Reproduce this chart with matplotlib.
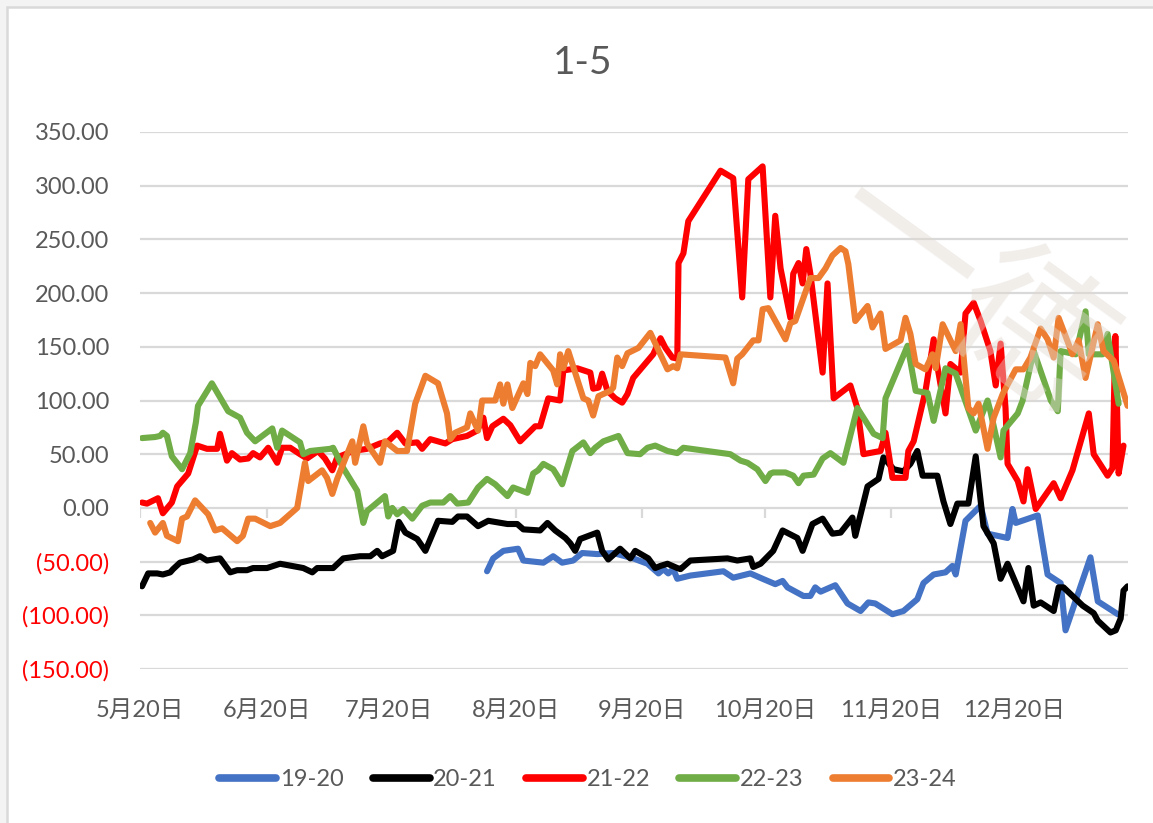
import matplotlib
matplotlib.use('Agg')
import matplotlib.pyplot as plt
from matplotlib.patches import Rectangle
from matplotlib.ticker import FuncFormatter

plt.rcParams['font.family'] = ['Lato', 'Noto Sans CJK SC', 'DejaVu Sans']

# x = days after 5月20日, y = spread value
title = '1-5'
series_names = ['19-20', '20-21', '21-22', '22-23', '23-24']
series_colors = ['#4472C4', '#000000', '#FF0000', '#70AD47', '#ED7D31']

tick_days = [0, 31, 61, 92, 123, 153, 184, 214]
tick_labels = ['5月20日', '6月20日', '7月20日', '8月20日', '9月20日', '10月20日', '11月20日', '12月20日']
y_ticks = [-150, -100, -50, 0, 50, 100, 150, 200, 250, 300, 350]

d1920 = [85, 86.5, 89, 92.6, 93.9, 98.8, 101.2, 103.4, 106.1, 108.3, 112, 115.9, 120.8, 124.3, 127, 128.2,
         129.4, 130.6, 131.6, 134.8, 142.9, 145.3, 149.5, 152.5, 155.6, 157.4, 158.6, 162.5, 164.2, 165.4,
         166.7, 170.3, 173.3, 176.5, 178.4, 180.1, 184.3, 187, 190.4, 191.9, 194.4, 197.3, 199, 199.8, 202.2,
         205.1, 205.9, 207.6, 212.5, 213.7, 214.5, 219.9, 222.3, 225.5, 226.7, 232.8, 234.6, 239.5]
v1920 = [-59, -47, -40, -38, -49, -51, -45, -51, -49, -42, -43, -42, -47, -52, -61, -57,
         -61, -57, -66, -63, -59, -65, -61, -66, -71, -68, -74, -82, -82, -74,
         -78, -72, -89, -96, -88, -89, -99, -96, -85, -70, -62, -60, -54, -62, -12,
         -1, 2, -24, -28, -1, -14, -7, -62, -70, -114, -46, -87, -99]

d2021 = [0.5, 2, 4.2, 5.6, 7.4, 8.1, 9.8, 13, 14.7, 16.4, 19.6, 22.1, 23.8, 26.2, 27.7, 31.1, 34.3, 40, 42.2,
         43.4, 47.3, 49.8, 53.9, 56.4, 58.1, 59.3, 62, 63.4, 65, 67.9, 69.9, 73, 76.5, 77.9, 80.1, 82.8, 85.3,
         90, 92.4, 93.9, 98, 99.8, 101.7, 104.2, 105.4, 106.6, 107.8, 112, 113.2, 114.7, 117.6, 120.1, 121.3,
         124.5, 126.2, 127.5, 129.2, 131.6, 132.4, 134.8, 143.9, 146.3, 149.5, 150.2, 152, 155.1, 157.4, 161,
         162.3, 164.7, 167.2, 169.6, 171.6, 174.5, 175.2, 178.2, 180.9, 182.1, 184.6, 187, 188.7, 190.4, 191.7,
         195.3, 196.8, 198.5, 200.2, 202.9, 204.7, 206.6, 209.1, 210.8, 212.5, 216.4, 217.6, 218.9, 220.6,
         223.8, 225, 226.2, 230.9, 233.6, 234.6, 237.7, 239, 240.2, 240.9, 241.9]
v2021 = [-73, -61, -61, -62, -60, -57, -51, -48, -45, -49, -47, -60, -58, -58, -56, -56, -52, -56, -60,
         -56, -56, -47, -45, -45, -40, -45, -40, -13, -23, -29, -40, -12, -13, -8, -8, -17, -12,
         -15, -15, -20, -21, -14, -21, -28, -33, -40, -29, -23, -40, -48, -38, -47, -40,
         -47, -56, -54, -52, -56, -57, -49, -47, -49, -47, -55, -52, -40, -21, -28,
         -40, -15, -10, -24, -23, -9, -26, 20, 27, 47, 36, 34, 41, 53, 30,
         30, 6, -15, 4, 4, 48, -17, -33, -66, -52, -87, -56, -91, -88,
         -96, -74, -74, -91, -98, -105, -116, -114, -103, -77, -73]

d2122 = [0.5, 1.7, 4.4, 5.6, 7.8, 9.1, 11.8, 14, 16.4, 18.9, 19.6, 21.3, 22.5, 24.5, 26.5, 27.7, 29.4, 31.4,
         33.6, 34.8, 36.8, 39.2, 40.9, 43.6, 45.3, 47.1, 48.3, 52.2, 55.6, 58.8, 60.8, 63, 65, 67.9, 69.1,
         71.1, 74.8, 76.5, 80.1, 82.6, 84.1, 85, 86.3, 89, 90.7, 93.1, 96.8, 98, 100, 102.9, 103.7, 107.1,
         110.3, 111, 112.3, 113.2, 114.5, 116.4, 118.1, 119.4, 120.8, 125.7, 127.5, 128.7, 130.4, 131.6,
         131.9, 133.1, 134.3, 142.2, 145.3, 147.5, 149, 152.5, 154.4, 155.6, 156.9, 159.3, 160, 161.3, 162.3,
         163.2, 164.2, 167.2, 168.4, 169.9, 174, 175.7, 177.2, 181.4, 182.6, 184.3, 187.5, 188.2, 189.5,
         192.4, 194.4, 195.3, 197.3, 198.5, 201, 202.2, 204.2, 205.9, 208.3, 209.6, 210.8, 212, 212.5, 215,
         216.4, 217.4, 219.4, 223.8, 225.5, 228.4, 232.4, 233.6, 237, 238.2, 238.9, 239.7, 240.9]
v2122 = [5, 4, 9, -5, 5, 20, 32, 58, 55, 55, 69, 44, 51, 45, 46, 51, 47, 56,
         42, 56, 56, 50, 46, 53, 46, 35, 47, 53, 55, 60, 62, 70, 60, 61, 55,
         64, 60, 64, 67, 72, 84, 65, 76, 83, 77, 62, 76, 76, 102, 100, 128, 130,
         126, 111, 112, 125, 109, 102, 98, 106, 121, 143, 158, 149, 140, 139,
         228, 237, 267, 314, 307, 196, 306, 318, 196, 272, 223, 177, 218, 228, 209,
         241, 218, 126, 209, 102, 114, 93, 50, 53, 70, 28, 28, 53, 62,
         109, 157, 132, 88, 134, 126, 181, 191, 174, 146, 114, 153, 93, 41, 25,
         6, 36, -1, 23, 9, 35, 88, 50, 30, 37, 160, 32, 58]

d2223 = [0.5, 3.7, 4.9, 5.6, 6.6, 7.8, 10.3, 12.3, 13.7, 14.2, 17.6, 21.6, 24.5, 26.2, 28.2, 32.4, 33.6, 34.8,
         39.2, 40, 41.7, 46.6, 47.3, 49.8, 53.2, 54.7, 55.6, 60, 60.8, 61.8, 63, 64.5, 66.7, 69.1, 71.1, 74.3,
         76, 77.7, 80.4, 82.8, 85, 87, 90, 91.4, 94.9, 96.3, 97.5, 98.8, 101.2, 102.2, 103.4, 105.9, 108.6,
         110.3, 111.5, 113.5, 117.2, 119.4, 122.5, 124.3, 126.2, 129.2, 131.6, 133.1, 144.6, 147.1, 148.8,
         151.2, 153.2, 154.4, 155.1, 158.1, 160, 161.3, 162.5, 165, 167.2, 169.1, 172.3, 175.7, 179.7, 181.9,
         182.6, 188, 190, 192.9, 194.4, 197.3, 199.8, 204.7, 207.6, 208.3, 210.8, 211.5, 215, 216.2, 218.9,
         223.1, 224.8, 225.5, 229.2, 231.6, 232.4, 235.8, 237, 239.7]
v2223 = [65, 66, 67, 70, 67, 48, 36, 51, 80, 95, 116, 90, 84, 70, 62, 74, 56, 72,
         61, 50, 53, 55, 56, 37, 16, -14, -3, 11, -8, 0, -6, -1, -10, 2, 5, 5,
         11, 4, 5, 19, 27, 22, 11, 19, 14, 32, 35, 41, 36, 30, 22, 53, 61,
         51, 56, 62, 67, 51, 50, 56, 58, 53, 51, 56, 50, 44, 42,
         36, 25, 32, 33, 33, 30, 23, 30, 31, 46, 51, 42, 93, 69, 65,
         102, 151, 109, 107, 81, 130, 125, 72, 100, 90, 47, 72, 88, 100, 146,
         100, 90, 146, 143, 183, 143, 143, 162, 97]

d2324 = [2.5, 3.7, 5.6, 6.6, 9.3, 10.3, 11.5, 13.5, 16.7, 18.4, 20.1, 23.8, 25.2, 26.5, 28.2, 31.9, 34.3, 38.5,
         40.4, 41.2, 44.6, 45.8, 47.1, 48.3, 52, 52.7, 54.7, 55.6, 58.8, 60, 63, 65.4, 67.4, 69.9, 73, 75.2,
         76, 77.2, 80.1, 80.9, 82.8, 83.8, 87, 88.2, 89, 90, 91.2, 93.9, 94.9, 95.6, 96.8, 98, 101.2, 102.2,
         102.9, 103.7, 104.9, 108.6, 109.8, 111, 112.3, 115.2, 115.9, 116.9, 118.1, 119.4, 122.1, 125, 129.2,
         130.6, 131.6, 132.4, 143.4, 145.3, 146.3, 147.5, 150.2, 151.5, 152.5, 153.9, 158.1, 159.3, 160.5,
         164.2, 166.2, 167.9, 169.6, 171.6, 172.8, 173.5, 175.2, 178.2, 179.4, 181.4, 182.6, 186.3, 187.5,
         188.7, 190, 192.4, 194.1, 194.9, 196.6, 199.8, 201, 202.9, 204.2, 205.4, 207.6, 209.1, 211.3, 214.5,
         216.4, 218.1, 220.6, 222.3, 223.8, 225, 228.4, 229.9, 231.6, 234.6, 236, 238.5, 241.9]
v2324 = [-14, -23, -14, -26, -31, -10, -8, 7, -6, -21, -19, -31, -26, -10, -10, -17, -14, 0,
         42, 25, 35, 28, 13, 27, 62, 42, 76, 60, 42, 62, 53, 53, 97, 123, 116, 88,
         64, 70, 75, 88, 72, 100, 100, 115, 97, 115, 93, 116, 106, 135, 132, 143, 128, 115,
         143, 130, 146, 102, 100, 86, 104, 109, 112, 140, 132, 144, 149, 163, 129,
         132, 130, 143, 140, 116, 139, 143, 156, 156, 185, 186, 157, 172, 174,
         214, 214, 223, 235, 242, 239, 227, 174, 188, 168, 181, 148, 156, 177,
         162, 134, 129, 143, 130, 171, 146, 171, 93, 88, 97, 55, 84, 106, 129,
         129, 140, 167, 157, 140, 177, 143, 156, 121, 171, 146, 137, 95]

series_days = [d1920, d2021, d2122, d2223, d2324]
series_vals = [v1920, v2021, v2122, v2223, v2324]

text_gray = '#595959'
grid_gray = '#d9d9d9'

fig = plt.figure(figsize=(11.53, 8.23), dpi=100, facecolor='#f3f3f3')
# chart frame (runs past the right/bottom edge like the screenshot)
fig.patches.append(Rectangle((7 / 1153, -0.1), 1.2, 1.1 - 7 / 823, transform=fig.transFigure,
                             facecolor='white', edgecolor=grid_gray, lw=1.8, zorder=-5))

ax = fig.add_axes([140 / 1153, 1 - 669 / 823, (1128 - 140) / 1153, (669 - 132) / 823])
ax.set_facecolor('none')

lines = []
for days, vals, name, col in zip(series_days, series_vals, series_names, series_colors):
    ln, = ax.plot(days, vals, color=col, lw=4.4, label=name,
                  solid_joinstyle='round', solid_capstyle='round')
    lines.append(ln)

ax.set_xlim(0, 242)
ax.set_ylim(min(y_ticks), max(y_ticks))
ax.set_yticks(y_ticks)
ax.yaxis.set_major_formatter(FuncFormatter(
    lambda v, p: f'({abs(v):.2f})' if v < 0 else f'{v:.2f}'))
ax.grid(axis='y', color=grid_gray, lw=1.6)
ax.set_axisbelow(True)
for s in ax.spines.values():
    s.set_visible(False)

ax.set_xticks(tick_days)
ax.set_xticklabels(tick_labels)
ax.tick_params(axis='x', length=0, pad=22, labelsize=17, labelcolor=text_gray)
ax.tick_params(axis='y', length=0, pad=22, labelsize=17, labelcolor=text_gray)
for lab, v in zip(ax.get_yticklabels(), y_ticks):
    if v < 0:
        lab.set_color('#FF0000')

# small tick marks hanging off the zero line
ax.vlines(tick_days, -9, 0, color=grid_gray, lw=1.6, zorder=0.5)

fig.text(583 / 1153, 1 - 63 / 823, title, ha='center', va='center', fontsize=28, color=text_gray)

leg = fig.legend(handles=lines, loc='center', bbox_to_anchor=(588 / 1153, 1 - 780 / 823), ncol=5,
                 frameon=False, fontsize=17, handlelength=2.4, handletextpad=0.15, columnspacing=1.25,
                 labelcolor=text_gray)
for h in leg.legend_handles:
    h.set_linewidth(5.5)

# faint watermark
fig.text(840 / 1153, 1 - 205 / 823, '一德', rotation=-36, rotation_mode='anchor',
         ha='left', va='center', fontsize=110, color='#e0d9d2', alpha=0.45,
         family=['Noto Sans CJK SC'], zorder=10)

fig.savefig('out.png', dpi=100, facecolor=fig.get_facecolor())
